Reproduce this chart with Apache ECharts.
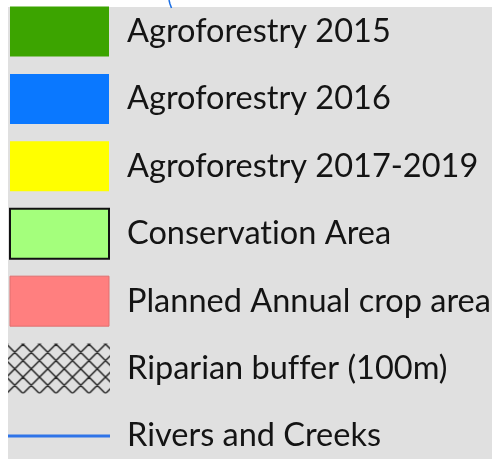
<!DOCTYPE html>
<html>
<head>
<meta charset="utf-8">
<script src="https://cdn.jsdelivr.net/npm/echarts@6/dist/echarts.min.js"></script>
<style>
  html, body { margin: 0; padding: 0; background: #fff; }
  #main { width: 496px; height: 459px; }
</style>
</head>
<body>
<div id="main"></div>
<script>
// legend entries
const labels = [
  'Agroforestry 2015',
  'Agroforestry 2016',
  'Agroforestry 2017-2019',
  'Conservat\u200Cion Area',
  'Planned Annual crop area',
  'Riparian buf\u200Cfer (100m)',
  'Rivers and Creeks'
]
const kinds = ['fill', 'fill', 'fill', 'fill', 'fill', 'hatch', 'line']
const fills = ['#3ca400', '#0a78ff', '#ffff00', '#a4ff7c', '#ff7f7f', null, '#2f74e8']
const outlines = [null, null, null, '#111', '#e07070', null, null]

// hatch pattern (X crosshatch)
function makeHatch() {
  const s = 16.5
  const c = document.createElement('canvas')
  c.width = 33; c.height = 33
  const ctx = c.getContext('2d')
  ctx.strokeStyle = '#222'
  ctx.lineWidth = 1.5
  ctx.beginPath()
  for (let k = -3; k <= 3; k++) {
    ctx.moveTo(k * s, 0); ctx.lineTo(k * s + 33, 33)
    ctx.moveTo(k * s + 33, 0); ctx.lineTo(k * s, 33)
  }
  ctx.stroke()
  return c
}
const hatch = makeHatch()

const chart = echarts.init(document.getElementById('main'))

chart.setOption({
  backgroundColor: '#fff',
  animation: false,
  graphic: [
    { type: 'rect', left: 8, top: 7, shape: { width: 484, height: 452 }, style: { fill: '#e0e0e0' }, z: -10 },
    { type: 'polyline', shape: { points: [[169, 0], [170, 4], [171.5, 8]] }, style: { stroke: '#1a6fe6', lineWidth: 1.5 }, z: -5 }
  ],
  grid: { left: 0, right: 0, top: 31.5, bottom: 23 },
  xAxis: { type: 'value', min: 0, max: 496, show: false },
  yAxis: { type: 'category', data: labels, inverse: true, boundaryGap: false, show: false },
  series: [{
    type: 'custom',
    data: labels.map((l, i) => [0, i]),
    renderItem(params, api) {
      const i = api.value(1)
      const p = api.coord([10, i])
      const cy = p[1]
      const children = []
      if (kinds[i] === 'fill') {
        children.push({
          type: 'rect',
          shape: { x: 10, y: cy - 25, width: 99, height: 50 },
          style: { fill: fills[i], stroke: outlines[i], lineWidth: outlines[i] === '#111' ? 2 : 1 }
        })
      } else if (kinds[i] === 'hatch') {
        children.push({
          type: 'rect',
          shape: { x: 8, y: cy - 25, width: 102, height: 50 },
          style: { fill: { image: hatch, repeat: 'repeat', x: 6.5, y: cy - 24.5 } }
        })
      } else {
        children.push({
          type: 'line',
          shape: { x1: 8, y1: cy, x2: 110, y2: cy },
          style: { stroke: fills[i], lineWidth: 3 }
        })
      }
      children.push({
        type: 'text',
        x: 127,
        y: cy,
        style: {
          text: labels[i],
          fontFamily: 'Lato',
          fontSize: 32.5,
          fill: '#141414',
          verticalAlign: 'middle',
          align: 'left'
        }
      })
      return { type: 'group', children }
    }
  }]
})
</script>
</body>
</html>
